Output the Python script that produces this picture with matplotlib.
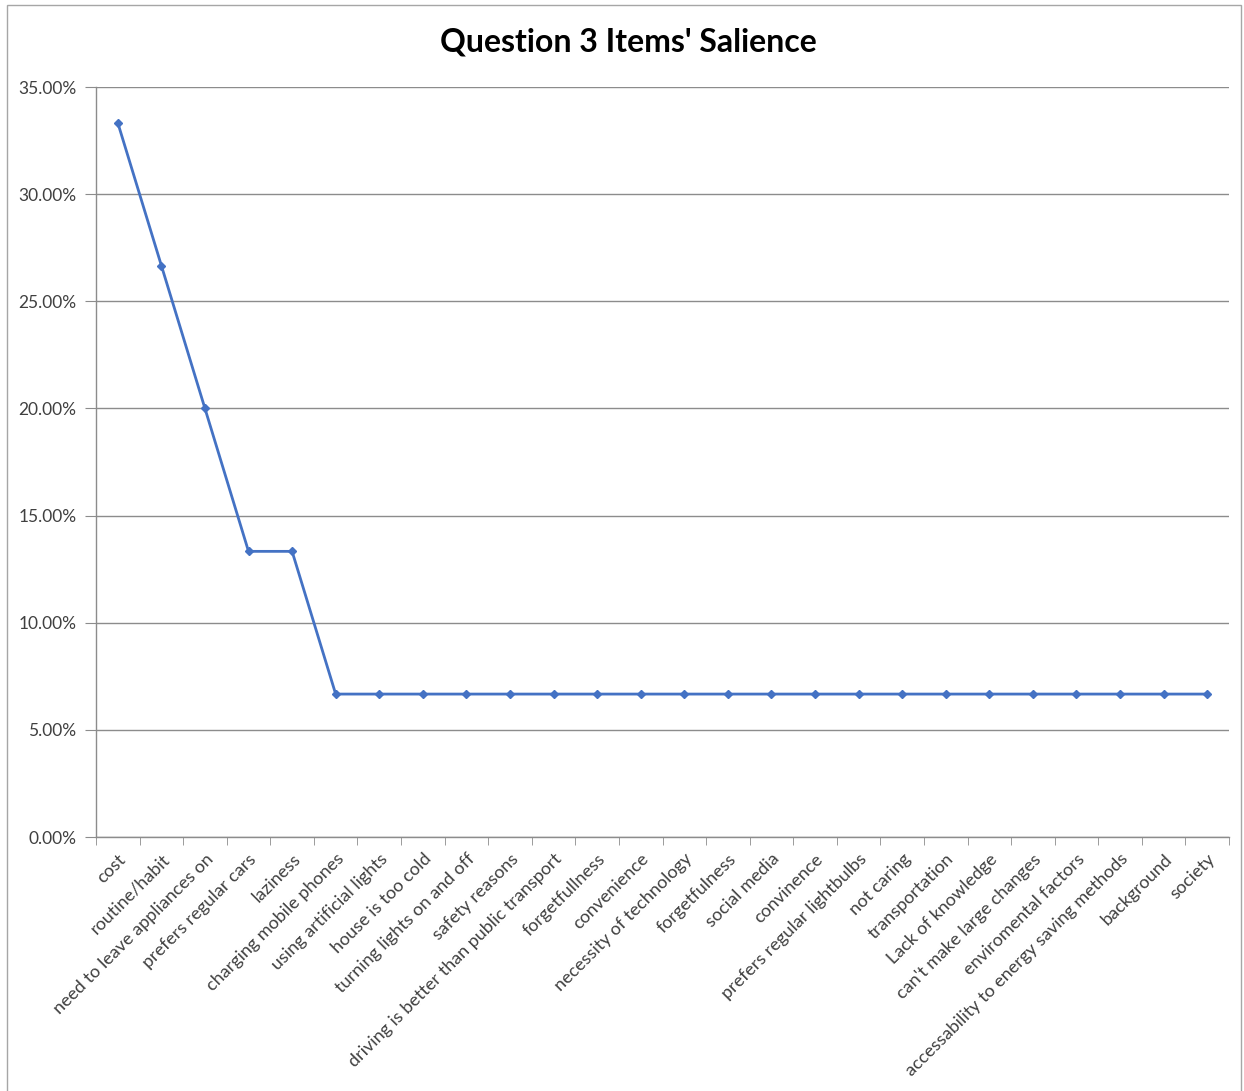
import matplotlib
matplotlib.use("Agg")
import matplotlib.pyplot as plt
from matplotlib.patches import Rectangle
from matplotlib.ticker import FuncFormatter, FixedLocator

items = [
    "cost", "routine/habit", "need to leave appliances on", "prefers regular cars",
    "laziness", "charging mobile phones", "using artificial lights", "house is too cold",
    "turning lights on and off", "safety reasons", "driving is better than public transport",
    "forgetfullness", "convenience", "necessity of technology", "forgetfulness",
    "social media", "convinence", "prefers regular lightbulbs", "not caring",
    "transportation", "Lack of knowledge", "can't make large changes",
    "enviromental factors", "accessability to energy saving methods", "background", "society",
]
salience = [
    0.3333, 0.2667, 0.2000, 0.1333, 0.1333, 0.0667, 0.0667, 0.0667, 0.0667,
    0.0667, 0.0667, 0.0667, 0.0667, 0.0667, 0.0667, 0.0667, 0.0667, 0.0667,
    0.0667, 0.0667, 0.0667, 0.0667, 0.0667, 0.0667, 0.0667, 0.0667,
]
yticks = [0.0, 0.05, 0.10, 0.15, 0.20, 0.25, 0.30, 0.35]

plt.rcParams["font.family"] = ["Lato", "DejaVu Sans"]
W, H = 1244, 1091
fig = plt.figure(figsize=(W / 100, H / 100), dpi=100)
ax = fig.add_axes([96 / W, 1 - 837 / H, (1229 - 96) / W, (837 - 87) / H])

# outer chart border
fig.patches.append(Rectangle((7 / W, -0.02), (1241 - 7) / W, 1.02 - 5 / H,
                             transform=fig.transFigure, fill=False,
                             edgecolor="#a6a6a6", lw=1.0))

x = list(range(len(items)))
ax.plot(x, salience, color="#4472C4", lw=2.0, marker="D", ms=4.5,
        markerfacecolor="#4472C4", markeredgecolor="#4472C4", zorder=3)

ax.set_xlim(-0.5, len(items) - 0.5)
ax.set_ylim(0, 0.35)
ax.set_yticks(yticks)
ax.yaxis.set_major_formatter(FuncFormatter(lambda v, _: f"{v * 100:.2f}%"))
ax.grid(axis="y", color="#8c8c8c", lw=1.0)
ax.set_axisbelow(True)

ax.set_xticks(x)
ax.set_xticklabels(items, rotation=45, ha="right", rotation_mode="anchor",
                   fontsize=13, color="#404040")
ax.xaxis.set_minor_locator(FixedLocator([i - 0.5 for i in range(len(items) + 1)]))
ax.tick_params(axis="x", which="major", length=0, pad=10)
ax.tick_params(axis="x", which="minor", length=6, color="#8c8c8c")
ax.tick_params(axis="y", length=8, color="#8c8c8c", labelsize=12.5,
               labelcolor="#404040", pad=6)

for s in ("top", "right"):
    ax.spines[s].set_visible(False)
for s in ("left", "bottom"):
    ax.spines[s].set_color("#8c8c8c")
    ax.spines[s].set_linewidth(1.0)

fig.text(628 / W, 1 - 42 / H, "Question 3 Items' Salience", ha="center",
         va="center", fontsize=23, fontweight="bold", color="black")

fig.savefig("out.png", dpi=100)
